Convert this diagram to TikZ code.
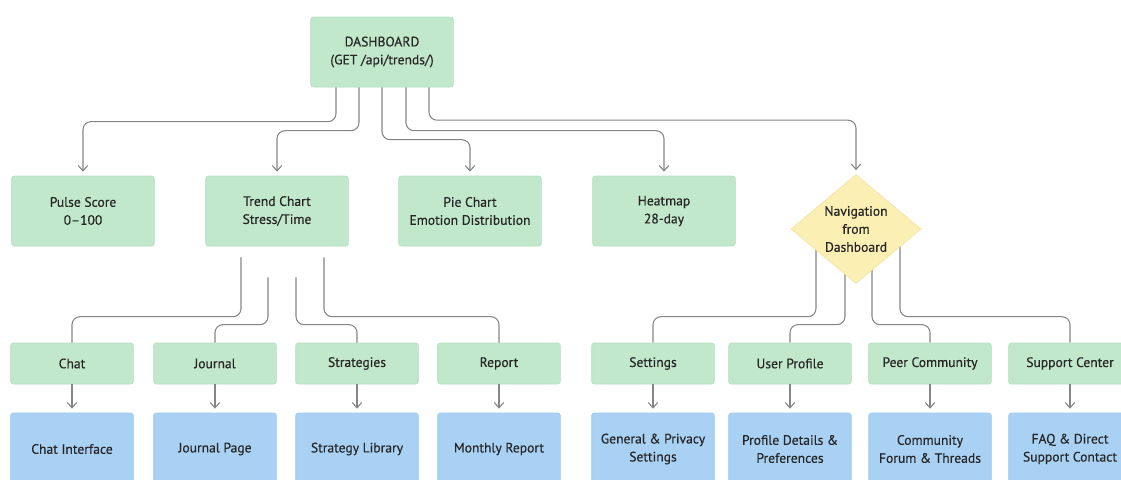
\documentclass[tikz,border=0pt]{standalone}
\usepackage{fontspec}
\setmainfont{PT Sans}[UprightFeatures={FakeBold=0.4}]
\usetikzlibrary{arrows.meta,positioning,calc,shapes.geometric,backgrounds}
\definecolor{mint}{HTML}{C2E8CC}
\definecolor{mintline}{HTML}{B4DEC0}
\definecolor{sky}{HTML}{A9D1F4}
\definecolor{skyline}{HTML}{9CC8EF}
\definecolor{sand}{HTML}{FCEFB4}
\definecolor{sandline}{HTML}{F4E3A0}
\definecolor{wire}{HTML}{858585}
\definecolor{ink}{HTML}{262626}

\begin{document}
\begin{tikzpicture}[x=0.75pt,y=-0.75pt,
    >={Straight Barb[length=4pt,width=7pt]},
    every node/.style={font=\fontsize{10.2}{13.5}\selectfont,text=ink,align=center},
    card/.style={draw=mintline,fill=mint,rounded corners=2pt,line width=0.5pt,
        minimum width=107pt,minimum height=52.5pt,inner sep=0pt},
    tab/.style={card,minimum width=92pt,minimum height=30.75pt},
    page/.style={draw=skyline,fill=sky,rounded corners=2pt,line width=0.5pt,
        minimum width=92pt,minimum height=54pt,inner sep=0pt},
    choice/.style={diamond,draw=sandline,fill=sand,line width=0.5pt,inner sep=0pt,
        minimum width=97.5pt,minimum height=80pt},
    link/.style={draw=wire,line width=0.8pt,rounded corners=6pt},
    tip/.style={->,shorten >=3pt}]
    \useasboundingbox (0,0) rectangle (1121,479);

    % Top: dashboard endpoint
    \node[card] (dash) at (382,52) {DASHBOARD\\(GET /api/trends/)};

    % Widgets on the dashboard
    \node[card] (pulse) at (83,211) {Pulse Score\\0--100};
    \node[card] (trend) at (277,211) {Trend Chart\\Stress/Time};
    \node[card] (pie) at (470,211) {Pie Chart\\Emotion Distribution};
    \node[card] (heat) at (664,211) {Heatmap\\28-day};
    \node[choice] (nav) at (856,229) {Navigation\\from\\Dashboard};

    % Dashboard to widgets
    \draw[link,tip] ($(dash.south)+(-46,0)$) |- ($(pulse.north)+(0,-54)$) -- (pulse.north);
    \draw[link,tip] ($(dash.south)+(-23,0)$) |- ($(trend.north)+(0,-45)$) -- (trend.north);
    \draw[link,tip] (dash.south) |- ($(pie.north)+(0,-36)$) -- (pie.north);
    \draw[link,tip] ($(dash.south)+(24,0)$) |- ($(heat.north)+(0,-45)$) -- (heat.north);
    \draw[link,tip] ($(dash.south)+(47,0)$) |- ($(nav.north)+(0,-54)$) -- (nav.north);

    % Sections reached from the trend chart
    \node[tab] (chat) at (72,363.5) {Chat};
    \node[tab] (journal) at (215,363.5) {Journal};
    \node[tab] (strat) at (357,363.5) {Strategies};
    \node[tab] (report) at (499,363.5) {Report};

    % Sections reached from navigation
    \node[tab] (settings) at (653,363.5) {Settings};
    \node[tab] (profile) at (790,363.5) {User Profile};
    \node[tab] (peer) at (930,363.5) {Peer Community};
    \node[tab] (support) at (1070,363.5) {Support Center};

    \draw[link] ($(trend.south)+(-36,11)$) |- ($(chat.north)+(0,-26)$) -- (chat.north);
    \draw[link] ($(trend.south)+(-9,31)$) |- ($(journal.north)+(0,-18)$) -- (journal.north);
    \draw[link] ($(trend.south)+(19,31)$) |- ($(strat.north)+(0,-18)$) -- (strat.north);
    \draw[link] ($(trend.south)+(47,11)$) |- ($(report.north)+(0,-26)$) -- (report.north);

    \begin{scope}[on background layer]
        \draw[link] ($(nav.center)+(-40,0)$) |- ($(settings.north)+(0,-26)$) -- (settings.north);
        \draw[link] ($(nav.center)+(-11,0)$) |- ($(profile.north)+(0,-18)$) -- (profile.north);
        \draw[link] ($(nav.center)+(16,0)$) |- ($(peer.north)+(0,-18)$) -- (peer.north);
        \draw[link] ($(nav.center)+(44,0)$) |- ($(support.north)+(0,-26)$) -- (support.north);
    \end{scope}

    % Pages
    \node[page] (chatpg) at (72,449) {Chat Interface};
    \node[page] (journalpg) at (215,449) {Journal Page};
    \node[page] (stratpg) at (357,449) {Strategy Library};
    \node[page] (reportpg) at (499,449) {Monthly Report};
    \node[page] (settingspg) at (653,449) {General \& Privacy\\Settings};
    \node[page] (profilepg) at (790,449) {Profile Details \&\\Preferences};
    \node[page] (peerpg) at (930,449) {Community\\Forum \& Threads};
    \node[page] (supportpg) at (1070,449) {FAQ \& Direct\\Support Contact};

    \draw[link,tip] (chat) -- (chatpg);
    \draw[link,tip] (journal) -- (journalpg);
    \draw[link,tip] (strat) -- (stratpg);
    \draw[link,tip] (report) -- (reportpg);
    \draw[link,tip] (settings) -- (settingspg);
    \draw[link,tip] (profile) -- (profilepg);
    \draw[link,tip] (peer) -- (peerpg);
    \draw[link,tip] (support) -- (supportpg);
\end{tikzpicture}
\end{document}
